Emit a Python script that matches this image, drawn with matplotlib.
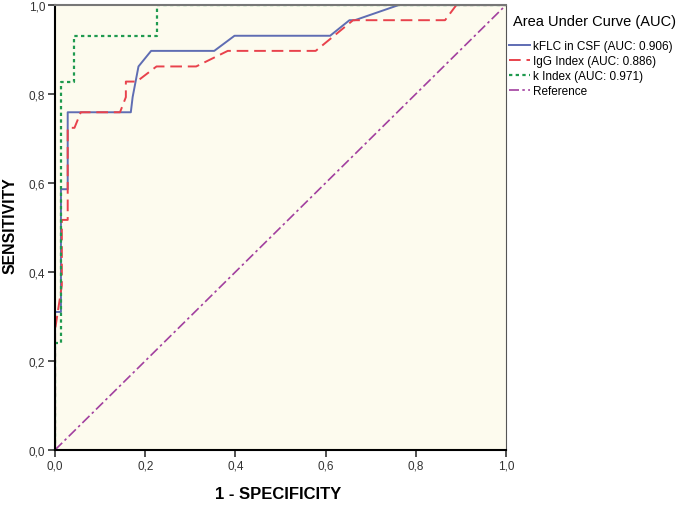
import numpy as np
import matplotlib.pyplot as plt

plt.rcParams['font.family'] = ['Liberation Sans', 'DejaVu Sans']

# ROC curve points (1 - specificity, sensitivity)
kflc_x = [0, 0, 0.013, 0.013, 0.028, 0.028, 0.168, 0.172, 0.185, 0.213, 0.353, 0.398, 0.61, 0.653, 0.665, 0.762, 1.0]
kflc_y = [0, 0.31, 0.31, 0.586, 0.586, 0.759, 0.759, 0.793, 0.862, 0.897, 0.897, 0.931, 0.931, 0.966, 0.966, 1.0, 1.0]

igg_x = [0, 0, 0.015, 0.015, 0.028, 0.028, 0.043, 0.057, 0.144, 0.157, 0.157, 0.181, 0.225, 0.313, 0.383, 0.578, 0.661, 0.865, 0.89, 1.0]
igg_y = [0, 0.27, 0.37, 0.517, 0.517, 0.724, 0.724, 0.759, 0.759, 0.793, 0.828, 0.828, 0.862, 0.862, 0.897, 0.897, 0.966, 0.966, 1.0, 1.0]

kidx_x = [0, 0, 0.013, 0.013, 0.043, 0.043, 0.225, 0.225, 1.0]
kidx_y = [0, 0.241, 0.241, 0.828, 0.828, 0.931, 0.931, 1.0, 1.0]

ref_x = [0, 1]
ref_y = [0, 1]

labels = ["kFLC in CSF (AUC: 0.906)", "IgG Index (AUC: 0.886)", "k Index (AUC: 0.971)", "Reference"]
ticks = [0.0, 0.2, 0.4, 0.6, 0.8, 1.0]
tick_labels = [f"{t:.1f}".replace(".", ",") for t in ticks]

fig = plt.figure(figsize=(6.8, 5.06), dpi=100)
ax = fig.add_axes([0.081, 0.109, 0.663, 0.879])
ax.set_facecolor("#fdfbee")

l1, = ax.plot(kflc_x, kflc_y, color="#5f6db3", lw=1.4, label=labels[0])
l2, = ax.plot(igg_x, igg_y, color="#e8424c", lw=1.4, dashes=(6, 3), label=labels[1])
l3, = ax.plot(kidx_x, kidx_y, color="#1f9a4f", lw=1.6, dashes=(1.5, 1.5), label=labels[2])
l4, = ax.plot(ref_x, ref_y, color="#a2409f", lw=1.2, dashes=(6, 2, 1.5, 2), label=labels[3])

ax.set_xlim(0, 1)
ax.set_ylim(0, 1)
ax.set_xticks(ticks)
ax.set_xticklabels(tick_labels)
ax.set_yticks(ticks)
ax.set_yticklabels(tick_labels)
ax.tick_params(labelsize=8.5, length=5, width=1.2, colors="#333333", pad=2)
ax.spines["left"].set_linewidth(1.5)
ax.spines["bottom"].set_linewidth(1.5)
ax.spines["top"].set_color("#777777")
ax.spines["top"].set_linewidth(1.5)
ax.spines["right"].set_color("#555555")
ax.spines["right"].set_linewidth(0.8)

fig.text(0.409, 0.022, "1 - SPECIFICITY", fontsize=12, fontweight="bold",
         ha="center", va="center")
fig.text(0.015, 0.555, "SENSITIVITY", fontsize=11.4, fontweight="bold",
         rotation=90, ha="center", va="center")

fig.text(0.754, 0.957, "Area Under Curve (AUC)", fontsize=10.5, va="center", ha="left")
fig.legend(handles=[l1, l2, l3, l4], loc="upper left", bbox_to_anchor=(0.748, 0.918),
           frameon=False, fontsize=8.5, handlelength=1.8, handletextpad=0.3,
           labelspacing=0.25, borderpad=0, borderaxespad=0)

fig.savefig("out.png", dpi=100)
